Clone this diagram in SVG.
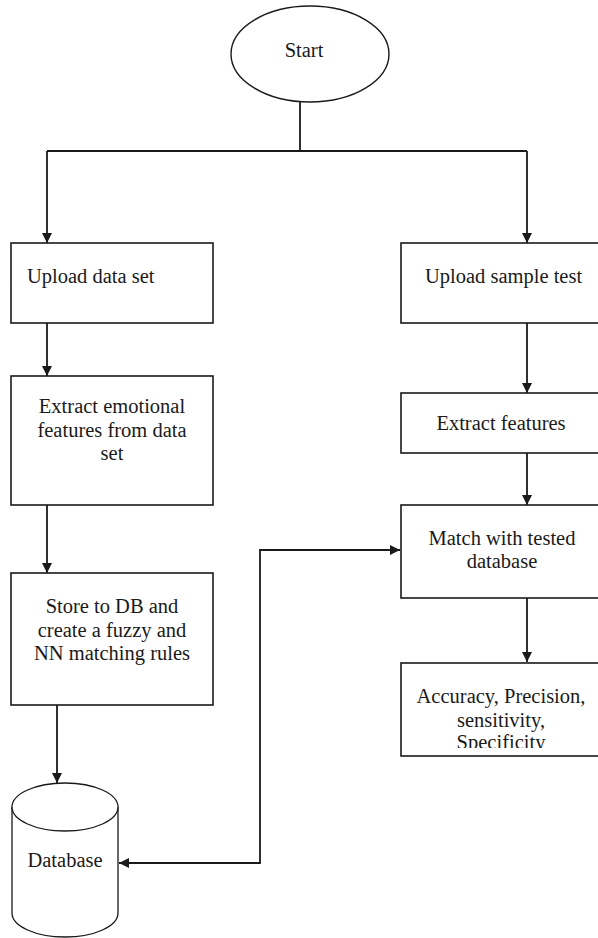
<svg xmlns="http://www.w3.org/2000/svg" width="598" height="938" viewBox="0 0 598 938">
<style>
.box{fill:#fff;stroke:#1a1a1a;stroke-width:1.6}
.t{font-family:"Liberation Serif","Times New Roman",serif;font-size:20.5px;fill:#1a1a1a}
.c{text-anchor:middle}
.ln{fill:none;stroke:#1a1a1a;stroke-width:1.8}
</style>
<defs>
<marker id="arr" viewBox="0 0 10 10" refX="10" refY="5" markerWidth="10" markerHeight="11" markerUnits="userSpaceOnUse" orient="auto-start-reverse">
<path d="M0,0 L10,5 L0,10 z" fill="#1a1a1a"/>
</marker>
<clipPath id="clipAcc"><rect x="401" y="663" width="200" height="85"/></clipPath>
</defs>
<rect width="598" height="938" fill="#fff"/>

<g id="connectors">
<path class="ln" d="M300,102 V151 M47,151 H527"/>
<path class="ln" d="M47,151 V243" marker-end="url(#arr)"/>
<path class="ln" d="M527,151 V243" marker-end="url(#arr)"/>
<path class="ln" d="M47,323 V376" marker-end="url(#arr)"/>
<path class="ln" d="M47,505 V573" marker-end="url(#arr)"/>
<path class="ln" d="M57,705 V783" marker-end="url(#arr)"/>
<path class="ln" d="M527,323 V393" marker-end="url(#arr)"/>
<path class="ln" d="M527,453 V505" marker-end="url(#arr)"/>
<path class="ln" d="M527,598 V662" marker-end="url(#arr)"/>
<path class="ln" d="M119,863 H260 V550 H400" marker-start="url(#arr)" marker-end="url(#arr)"/>
</g>

<g id="start">
<ellipse cx="310" cy="54" rx="79" ry="48" fill="#fff" stroke="#1a1a1a" stroke-width="1.4"/>
<text class="t c" x="304" y="57">Start</text>
</g>

<g id="upload-data-set">
<rect class="box" x="11" y="243" width="202" height="80"/>
<text class="t" x="27" y="283">Upload data set</text>
</g>

<g id="extract-emotional">
<rect class="box" x="11" y="376" width="202" height="129"/>
<text class="t c" x="112" y="413">Extract emotional</text>
<text class="t c" x="112" y="437">features from data</text>
<text class="t c" x="112" y="460">set</text>
</g>

<g id="store-db">
<rect class="box" x="11" y="573" width="202" height="132"/>
<text class="t c" x="112" y="613">Store to DB and</text>
<text class="t c" x="112" y="637">create a fuzzy and</text>
<text class="t c" x="112" y="660">NN matching rules</text>
</g>

<g id="database">
<path d="M12,807 V913 A53,24 0 0 0 118,913 V807" fill="#fff" stroke="#1a1a1a" stroke-width="1.3"/>
<ellipse cx="65" cy="807" rx="53" ry="24" fill="#fff" stroke="#1a1a1a" stroke-width="1.3"/>
<text class="t c" x="65" y="867">Database</text>
</g>

<g id="upload-sample-test">
<rect class="box" x="401" y="243" width="200" height="80"/>
<text class="t" x="425" y="283">Upload sample test</text>
</g>

<g id="extract-features">
<rect class="box" x="401" y="393" width="200" height="60"/>
<text class="t c" x="501" y="430">Extract features</text>
</g>

<g id="match">
<rect class="box" x="401" y="505" width="200" height="93"/>
<text class="t c" x="502" y="545">Match with tested</text>
<text class="t c" x="502" y="568">database</text>
</g>

<g id="metrics">
<rect class="box" x="401" y="663" width="200" height="93"/>
<g clip-path="url(#clipAcc)">
<text class="t c" x="501" y="703">Accuracy, Precision,</text>
<text class="t c" x="501" y="727">sensitivity,</text>
<text class="t c" x="501" y="749">Specificity</text>
</g>
</g>
</svg>
